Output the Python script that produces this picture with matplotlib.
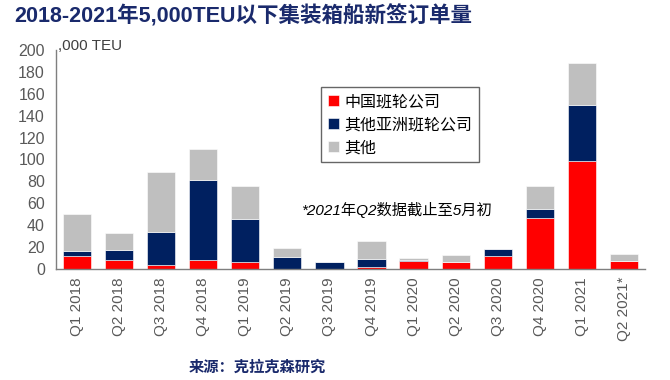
import numpy as np
import matplotlib.pyplot as plt

plt.rcParams['font.family'] = ['Liberation Sans', 'Noto Sans CJK SC', 'DejaVu Sans']

# 数据（千TEU）
quarters = ["Q1 2018", "Q2 2018", "Q3 2018", "Q4 2018", "Q1 2019", "Q2 2019", "Q3 2019",
            "Q4 2019", "Q1 2020", "Q2 2020", "Q3 2020", "Q4 2020", "Q1 2021", "Q2 2021*"]
china = [12, 8, 3.7, 8, 5.8, 0, 0, 1.5, 7, 5.8, 12, 46, 99, 7]
other_asia = [4, 9, 29.7, 72.7, 40.1, 10.7, 6, 7.1, 1.3, 0, 5.8, 8.8, 51.2, 0]
others = [34, 15.5, 55.3, 29, 29.7, 8.3, 0.5, 16.4, 1.5, 7.1, 0, 20.8, 37.8, 6.8]
series_names = ["中国班轮公司", "其他亚洲班轮公司", "其他"]

navy = "#1a2a6c"
colors = ["#ff0000", "#002060", "#bfbfbf"]

fig = plt.figure(figsize=(6.7, 3.8), dpi=100)
ax = fig.add_axes([0.0836, 0.293, 0.879, 0.575])

x = np.arange(len(quarters))
w = 0.67
b1 = np.array(china)
b2 = b1 + np.array(other_asia)
ax.bar(x, china, w, color=colors[0], edgecolor="white", linewidth=0.4, label=series_names[0])
ax.bar(x, other_asia, w, bottom=b1, color=colors[1], edgecolor="white", linewidth=0.4, label=series_names[1])
ax.bar(x, others, w, bottom=b2, color=colors[2], edgecolor="white", linewidth=0.4, label=series_names[2])

ax.set_xlim(-0.5, len(quarters) - 0.5)
ax.set_ylim(0, 200)
ax.set_yticks(np.arange(0, 201, 20))
ax.set_xticks(x)
ax.set_xticklabels(quarters, rotation=90)
ax.tick_params(axis="both", length=0, colors="#595959", labelsize=11.5)
ax.tick_params(axis="y", pad=8)
ax.tick_params(axis="x", labelsize=11, pad=6)
for s in ["top", "right"]:
    ax.spines[s].set_visible(False)
for s in ["left", "bottom"]:
    ax.spines[s].set_color("#7f7f7f")
    ax.spines[s].set_linewidth(1)

# 图例
leg = ax.legend(loc="upper left", bbox_to_anchor=(0.45, 0.831), fontsize=11.5,
                frameon=True, fancybox=False, edgecolor="#404040",
                handlelength=0.7, handleheight=0.7, handletextpad=0.3,
                labelspacing=0.5, borderpad=0.45, borderaxespad=0)
leg.get_frame().set_linewidth(1)

# 文字
fig.text(0.021, 0.958, "2018-2021年5,000TEU以下集装箱船新签订单量", fontsize=15.5,
         fontweight="bold", color=navy, va="center", ha="left")
fig.text(0.086, 0.879, ",000 TEU", fontsize=11, color="#404040", va="center", ha="left")
fig.text(0.449, 0.447, "*2021年Q2数据截止至5月初", fontsize=11, style="italic",
         color="black", va="center", ha="left")
fig.text(0.384, 0.032, "来源：克拉克森研究", fontsize=11, fontweight="bold",
         color=navy, va="center", ha="center")

plt.savefig("out.png", dpi=100)
